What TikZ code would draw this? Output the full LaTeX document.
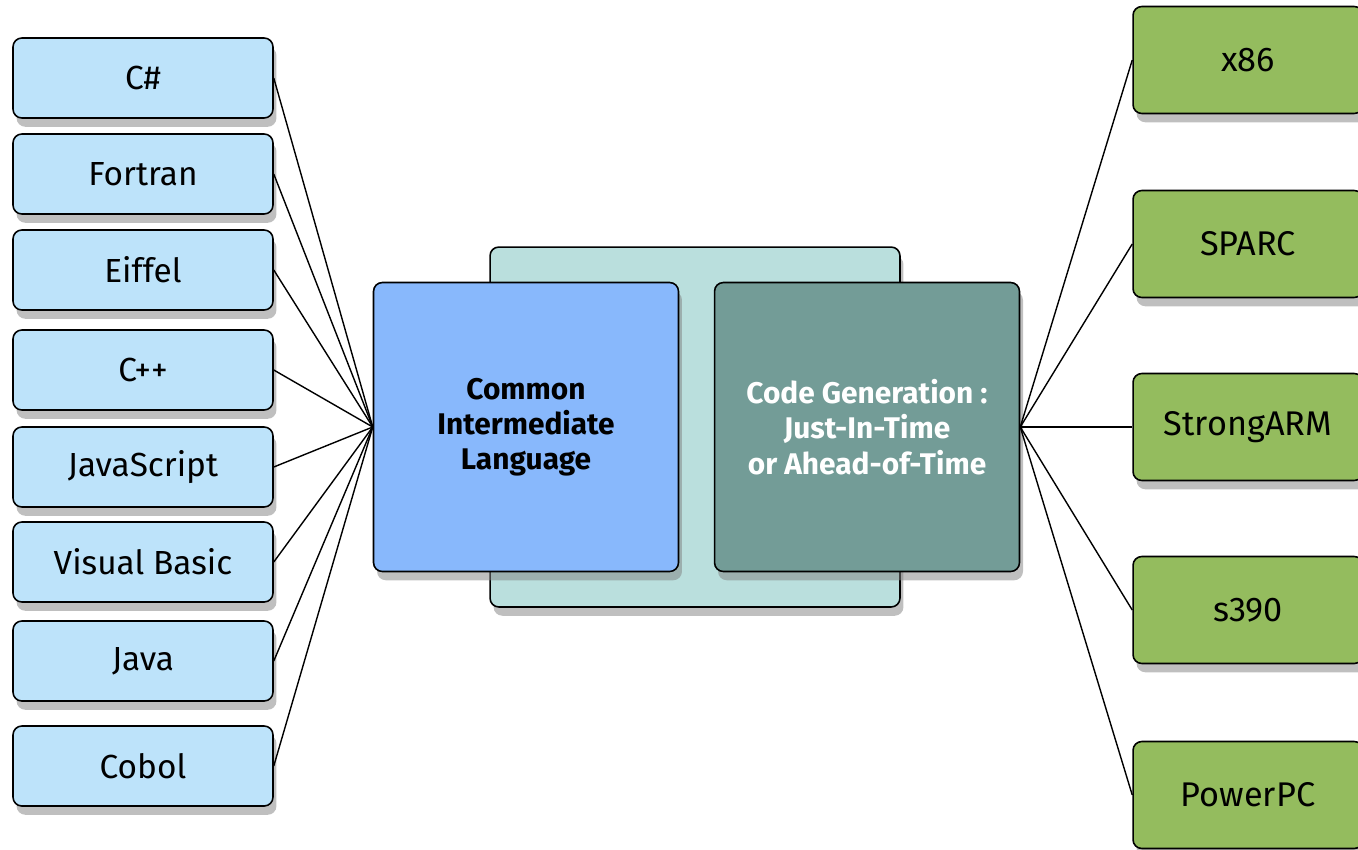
\documentclass[tikz,border=0pt]{standalone}
\usepackage{fontspec}
\setmainfont{Fira Sans}
\usetikzlibrary{shadows}
\definecolor{langblue}{HTML}{BDE3FA}
\definecolor{cilblue}{HTML}{88B8FC}
\definecolor{cggray}{HTML}{739C97}
\definecolor{bgteal}{HTML}{BADFDD}
\definecolor{archgreen}{HTML}{94BC5E}

\begin{document}
\begin{tikzpicture}[x=0.02cm,y=-0.02cm,
		box/.style={rectangle,rounded corners=5pt,draw=black,line width=0.9pt,inner sep=0pt,
			drop shadow={shadow xshift=2pt,shadow yshift=-5pt,opacity=0.5},
			font=\fontsize{19}{22}\selectfont},
		lang/.style={box,fill=langblue,minimum width=5.2cm,minimum height=1.6cm},
		arch/.style={box,fill=archgreen,minimum width=4.6cm,minimum height=2.14cm,
			font=\fontsize{19.5}{22}\selectfont},
		core/.style={box,minimum width=6.1cm,minimum height=5.78cm,align=center,
			font=\fontsize{17}{20}\selectfont\bfseries},
		link/.style={draw=black,line width=0.8pt}]
		\useasboundingbox (0,0) rectangle (1358,849);
		\clip (0,0) rectangle (1358,849);
		
		% middle block
		\node[box,fill=bgteal,minimum width=8.2cm,minimum height=7.2cm] (back) at (695,427) {};
		\node[core,fill=cilblue] (cil) at (526,427) {Common\\Intermediate\\Language};
		\node[core,fill=cggray,text=white] (gen) at (867,427) {Code Generation :\\Just-In-Time\\or Ahead-of-Time};
		
		% source languages
		\node[lang] (cs)  at (143,78)  {C\#};
		\node[lang] (for) at (143,174) {Fortran};
		\node[lang] (eif) at (143,270) {Eiffel};
		\node[lang] (cpp) at (143,370) {C++};
		\node[lang] (js)  at (143,467) {JavaScript};
		\node[lang] (vb)  at (143,562) {Visual Basic};
		\node[lang] (jav) at (143,661) {Java};
		\node[lang] (cob) at (143,766) {Cobol};
		
		% target platforms
		\node[arch] (x86)  at (1248,60)  {x86};
		\node[arch] (sparc) at (1248,244) {SPARC};
		\node[arch] (arm)  at (1248,427) {StrongARM};
		\node[arch] (s390) at (1248,610) {s390};
		\node[arch] (ppc)  at (1248,795) {PowerPC};
		
		\foreach \n in {cs,for,eif,cpp,js,vb,jav,cob}
		\path[link] (\n.east) -- (cil.west);
		\foreach \n in {x86,sparc,arm,s390,ppc}
		\path[link] (gen.east) -- (\n.west);
\end{tikzpicture}
\end{document}
